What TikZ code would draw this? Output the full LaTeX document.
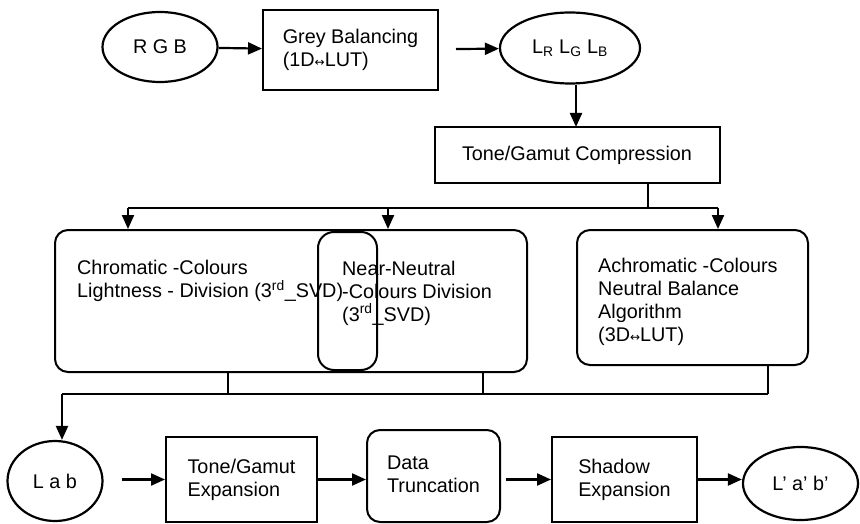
\documentclass[tikz,border=0pt]{standalone}
\usepackage{fontspec}
\setmainfont{Liberation Sans}
\newfontfamily\symfnt{DejaVu Sans}
\usetikzlibrary{shapes.geometric,arrows.meta,calc}
\newcommand{\lrarr}{{\symfnt\fontsize{12}{12}\selectfont ↔}}
\begin{document}
\begin{tikzpicture}[x=1pt,y=-1pt,
  every node/.style={font=\fontsize{19.8}{23}\selectfont, inner sep=0pt},
  oval/.style={ellipse, draw, line width=2.2pt},
  sqbox/.style={rectangle, draw, line width=2pt, align=left},
  rbox/.style={rectangle, draw, line width=2pt, rounded corners=13pt, align=left},
  txt/.style={align=left, anchor=west},
  ln/.style={line width=2.2pt},
  arr/.style={line width=2.2pt, -{Triangle[length=14pt,width=12pt]}}]
\useasboundingbox (0,0) rectangle (860,524);

% top row
\node[oval, minimum width=115pt, minimum height=70pt] (rgb) at (160,47) {R G B};
\node[sqbox, minimum width=175pt, minimum height=80pt] (grey) at (350.5,50)
  {\raisebox{-4pt}{\begin{tabular}{@{}l@{}}Grey Balancing\\(1D\lrarr LUT)\end{tabular}}};
\node[oval, minimum width=140pt, minimum height=71pt] (lrgb) at (570,48)
  {L\textsubscript{R} L\textsubscript{G} L\textsubscript{B}};
\node[sqbox, minimum width=285pt, minimum height=56pt] (tone) at (577,155)
  {Tone/Gamut Compression};

\draw[arr] (rgb) -- (grey);
\draw[arr, shorten <=17pt] (grey) -- (lrgb);
\draw[arr] (lrgb.south -| 576,0) -- (576,127);

% middle boxes
\node[rbox, minimum width=472pt, minimum height=142pt] (chrom) at (291,301) {};
\node[rbox, rounded corners=16pt, minimum width=59pt, minimum height=138pt] (nn) at (347.5,301) {};
\node[rbox, minimum width=231pt, minimum height=135pt] (achro) at (692.5,297.5) {};

\node[txt] (ctext) at (77,281)
  {Chromatic -Colours\\Lightness - Division (3\textsuperscript{rd}\_SVD)};
\node[txt] (ntext) at (342,293)
  {Near-Neutral\\-Colours Division\\(3\textsuperscript{rd}\_SVD)};
\node[txt] (atext) at (598,302)
  {Achromatic -Colours\\Neutral Balance\\Algorithm\\(3D\lrarr LUT)};

% upper bus
\coordinate (b1) at (648,208);
\coordinate (bl) at (128,208);
\coordinate (bm) at (388,208);
\coordinate (br) at (718,208);
\draw[ln] (tone.south -| b1) -- (b1);
\draw[ln] (bl) -- (br);
\draw[arr] (bl) -- (bl |- chrom.north);
\draw[arr] (bm) -- (bm |- chrom.north);
\draw[arr] (br) -- (br |- achro.north);

% lower bus
\coordinate (c1) at (228,394);
\coordinate (c2) at (483,394);
\coordinate (c3) at (768,394);
\coordinate (c0) at (62,394);
\draw[ln] (c1 |- chrom.south) -- (c1);
\draw[ln] (c2 |- chrom.south) -- (c2);
\draw[ln] (c3 |- achro.south) -- (c3);
\draw[ln] (c0) -- (c3);

% bottom row
\node[oval, minimum width=95pt, minimum height=80pt] (lab) at (55,481) {L a b};
\node[sqbox, minimum width=151pt, minimum height=85pt] (tge) at (241.5,479.5)
  {Tone/Gamut\\Expansion};
\node[rbox, minimum width=133pt, minimum height=92pt] (dt) at (433.5,476)
  {\raisebox{4pt}{\begin{tabular}{@{}l@{}}Data\\Truncation\end{tabular}}};
\node[sqbox, minimum width=145pt, minimum height=85pt] (sh) at (624.5,479.5)
  {Shadow\\Expansion};
\node[oval, minimum width=115pt, minimum height=73pt] (lab2) at (800.5,483.5) {L’ a’ b’};

\draw[arr] (c0) -- (c0 |- lab.north);
\draw[arr, shorten <=18pt] (lab.east |- tge.west) -- (tge.west);
\draw[arr] (tge.east) -- (dt.west |- tge.east);
\draw[arr, shorten <=5pt] (dt.east |- sh.west) -- (sh.west);
\draw[arr] (sh.east) -- (lab2.west |- sh.east);
\end{tikzpicture}
\end{document}
